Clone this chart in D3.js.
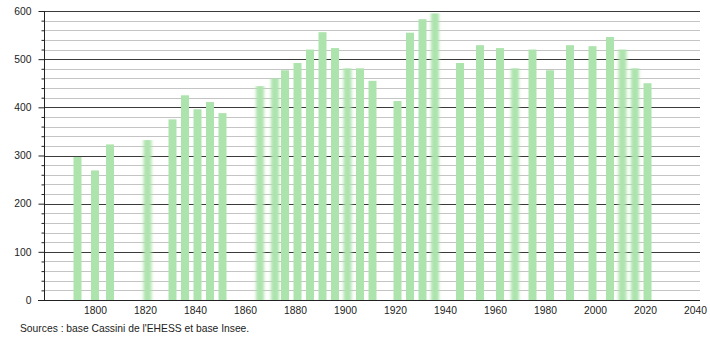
<!DOCTYPE html>
<html><head><meta charset="utf-8">
<script src="https://cdn.jsdelivr.net/npm/d3@7"></script>
<style>body{margin:0;background:#fff}svg{display:block}text{font-family:"Liberation Sans",Arial,sans-serif;}</style>
</head><body>
<svg id="c" width="710" height="340"></svg>
<script>
const years = [1793,1800,1806,1821,1831,1836,1841,1846,1851,1866,1872,1876,1881,1886,1891,1896,1901,1906,1911,1921,1926,1931,1936,1946,1954,1962,1968,1975,1982,1990,1999,2006,2011,2016,2021];
const population = [297,269,323,332,375,425,396,411,388,444,460,477,492,520,556,523,481,481,455,413,555,583,595,492,529,523,481,520,477,529,527,546,520,481,450];
const blurredYears = [1821,1866,1872,1901,1936,1968,2011,2016];
const xTicks = [1800,1820,1840,1860,1880,1900,1920,1940,1960,1980,2000,2020,2040];
const yTicks = [0,100,200,300,400,500,600];
const source = "Sources : base Cassini de l'EHESS et base Insee.";

const FS = 10.3;
const svg = d3.select("#c");
const L=44, R=700, T=11, B=300;
const x = d3.scaleLinear().domain([1780,2042]).range([L+1,R]);
const y = d3.scaleLinear().domain([0,600]).range([B,T]);

const defs = svg.append("defs");
defs.append("filter").attr("id","bl").attr("x","-100%").attr("width","300%")
  .append("feGaussianBlur").attr("stdDeviation","1.6 0.3");

// grid
const minor = d3.range(0,601,20).filter(v=>v%100!==0);
svg.append("g").selectAll("line").data(minor).join("line")
  .attr("x1",L).attr("x2",R).attr("y1",d=>Math.round(y(d))+0.5).attr("y2",d=>Math.round(y(d))+0.5)
  .attr("stroke","#c4c4c4").attr("stroke-width",1);
svg.append("g").selectAll("line").data(yTicks.filter(v=>v>0)).join("line")
  .attr("x1",L).attr("x2",R).attr("y1",d=>Math.round(y(d))+0.5).attr("y2",d=>Math.round(y(d))+0.5)
  .attr("stroke","#3a3a3a").attr("stroke-width",1);

// bars
const bw = 8;
const data = years.map((yr,i)=>({yr,v:population[i]}));
svg.append("g").selectAll("rect").data(data).join("rect")
  .attr("x",d=>x(d.yr)-bw/2).attr("width",bw)
  .attr("y",d=>y(d.v)).attr("height",d=>B-y(d.v))
  .attr("fill","#ade3ad")
  .attr("filter",d=>blurredYears.includes(d.yr)?"url(#bl)":null);

// y axis
const ya = d3.axisLeft(y).tickValues(d3.range(0,601,20)).tickSize(3)
  .tickFormat(d=>d%100===0?d:"");
const gy = svg.append("g").attr("transform",`translate(${L+0.5},0)`).call(ya);
gy.select(".domain").remove();
gy.selectAll(".tick line").attr("x2",d=>d%100===0?-6:-3).attr("stroke","#222");
gy.selectAll(".tick text").attr("x",-13).attr("font-size",FS).attr("fill","#222")
  .attr("font-family","Liberation Sans, Arial, sans-serif");
svg.append("line").attr("x1",L+0.5).attr("x2",L+0.5).attr("y1",T).attr("y2",B).attr("stroke","#222");

// x axis
const xa = d3.axisBottom(x).tickValues(xTicks).tickSize(0).tickFormat(d3.format("d"));
const gx = svg.append("g").attr("transform",`translate(0,${B+0.5})`).call(xa);
gx.select(".domain").remove();
gx.selectAll(".tick text").attr("y",6).attr("font-size",FS).attr("fill","#222")
  .attr("font-family","Liberation Sans, Arial, sans-serif");
svg.append("line").attr("x1",L-6).attr("x2",R).attr("y1",B+0.5).attr("y2",B+0.5).attr("stroke","#222");

svg.append("text").attr("x",20).attr("y",332).attr("font-size",FS).attr("fill","#222").text(source);
</script>
</body></html>
